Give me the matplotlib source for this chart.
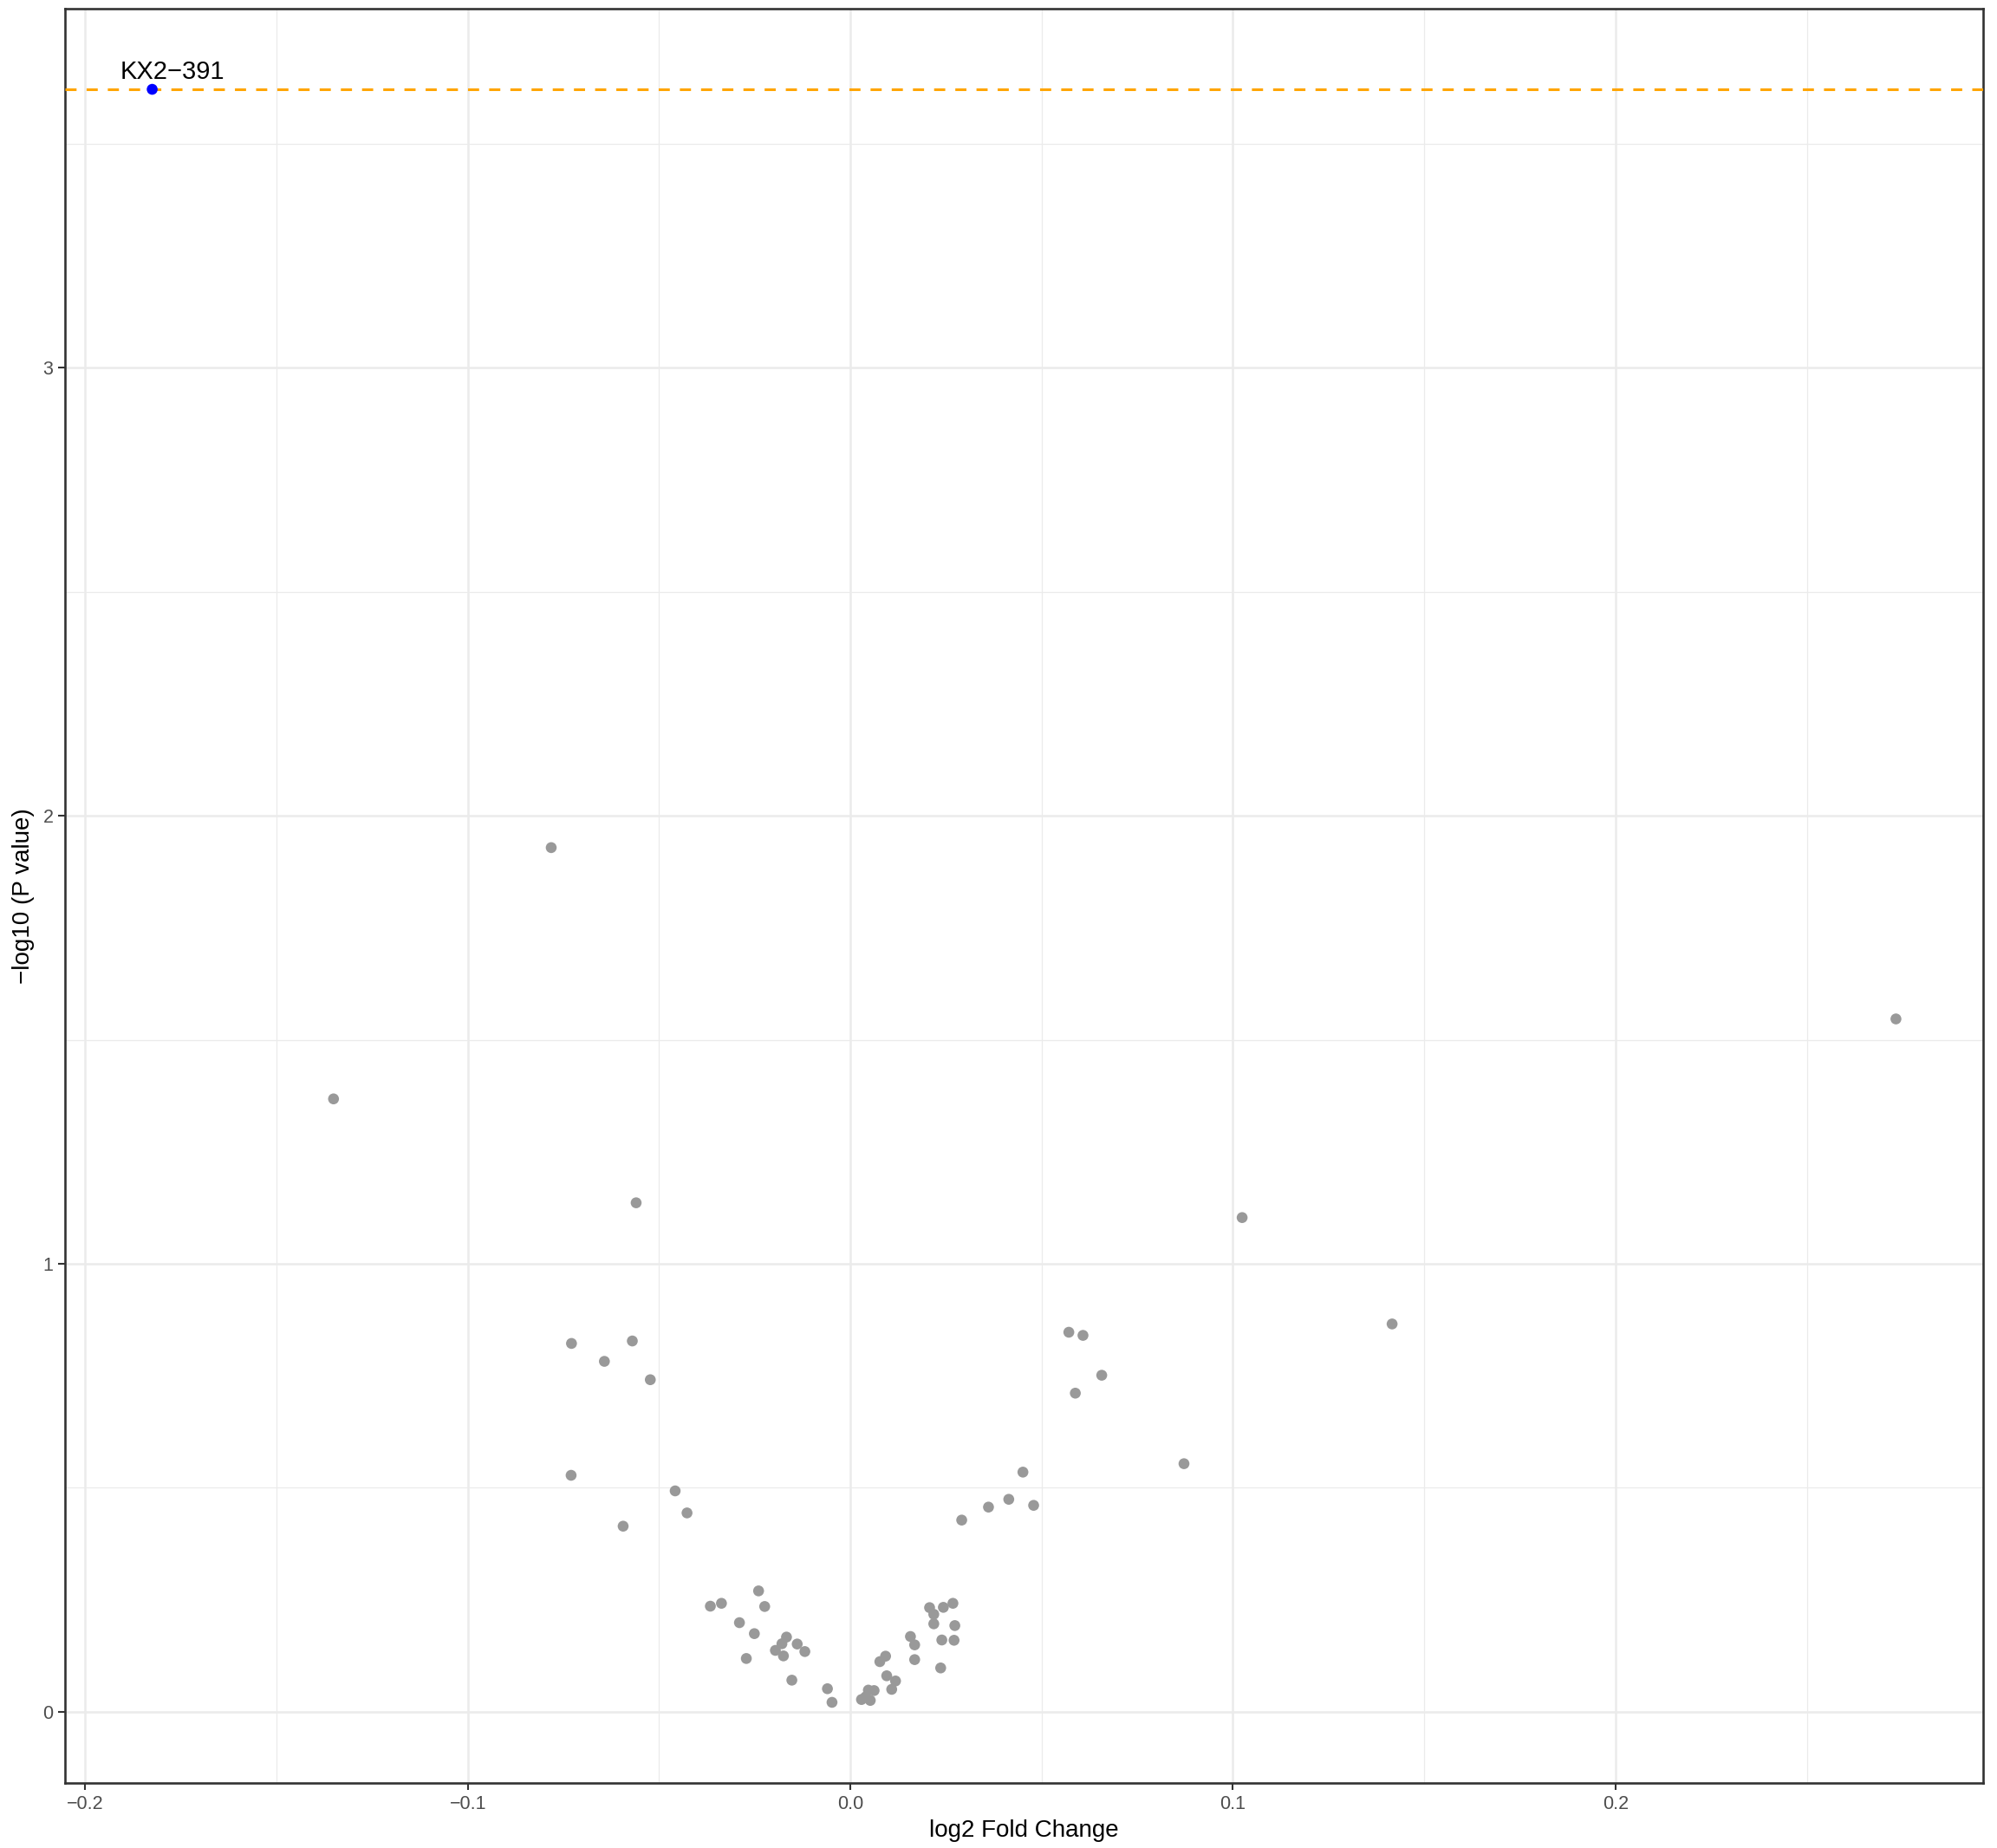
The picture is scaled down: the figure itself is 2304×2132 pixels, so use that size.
import matplotlib
matplotlib.use("Agg")
import matplotlib.pyplot as plt
import numpy as np

# ---- data ----
log2fc = [-0.0782, -0.1351, 0.2733, 0.1416, -0.0560, 0.1024, -0.0729, -0.0570,
          -0.0643, -0.0523, 0.0571, 0.0608, 0.0657, 0.0588, 0.0872, -0.0730,
          0.0451, -0.0458, -0.0427, -0.0594, 0.0291, 0.0361, 0.0414, 0.0479,
          -0.0366, -0.0337, -0.0240, -0.0224, -0.0290, -0.0251, -0.0272, -0.0167,
          -0.0179, -0.0196, -0.0175, -0.0139, -0.0119, -0.0153, -0.0060, -0.0048,
          0.0029, 0.0040, 0.0052, 0.0047, 0.0062, 0.0077, 0.0092, 0.0095,
          0.0118, 0.0108, 0.0157, 0.0168, 0.0168, 0.0207, 0.0218, 0.0218,
          0.0243, 0.0268, 0.0273, 0.0239, 0.0271, 0.0236]
neglog10p = [1.929, 1.368, 1.5465, 0.8655, 1.136, 1.103, 0.822, 0.8275,
             0.782, 0.741, 0.847, 0.840, 0.751, 0.711, 0.5535, 0.5276,
             0.5347, 0.4928, 0.4436, 0.414, 0.4276, 0.4566, 0.474, 0.4605,
             0.2354, 0.2418, 0.2695, 0.2347, 0.1986, 0.1741, 0.1186, 0.1664,
             0.1515, 0.1367, 0.1244, 0.1509, 0.1341, 0.0702, 0.0511, 0.0207,
             0.027, 0.033, 0.025, 0.048, 0.047, 0.1116, 0.1238, 0.0800,
             0.0684, 0.0497, 0.1677, 0.1490, 0.1161, 0.2322, 0.2173, 0.1960,
             0.2328, 0.2418, 0.1921, 0.1599, 0.1593, 0.0975]

hit_name = ["KX2\u2212391"]
hit_x = [-0.1825]
hit_y = [3.622]
threshold = 3.622

x_ticks = [-0.2, -0.1, 0.0, 0.1, 0.2]
x_ticklabels = ["\u22120.2", "\u22120.1", "0.0", "0.1", "0.2"]
y_ticks = [0, 1, 2, 3]
y_ticklabels = ["0", "1", "2", "3"]

# ---- figure ----
plt.rcParams['font.family'] = ['Liberation Sans', 'DejaVu Sans']
fig = plt.figure(figsize=(23.04, 21.32), dpi=100)
ax = fig.add_axes([75/2304, 1-2057/2132, (2288-75)/2304, (2057-10)/2132])

allx = np.array(log2fc + hit_x)
ally = np.array(neglog10p + hit_y)
xr = allx.max() - allx.min()
yr = ally.max() - ally.min()
ax.set_xlim(allx.min() - 0.05*xr, allx.max() + 0.05*xr)
ax.set_ylim(ally.min() - 0.05*yr, ally.max() + 0.05*yr)

# grid
for v in [-0.15, -0.05, 0.05, 0.15, 0.25]:
    ax.axvline(v, color='#EBEBEB', lw=0.9, zorder=0)
for v in [0.5, 1.5, 2.5, 3.5]:
    ax.axhline(v, color='#EBEBEB', lw=0.9, zorder=0)
for v in x_ticks:
    ax.axvline(v, color='#EBEBEB', lw=1.8, zorder=0)
for v in y_ticks:
    ax.axhline(v, color='#EBEBEB', lw=1.8, zorder=0)

ax.scatter(log2fc, neglog10p, s=82, color='#999999', edgecolors='none', zorder=3)
ax.scatter(hit_x, hit_y, s=82, color='#0000FF', edgecolors='none', zorder=4)
ax.axhline(threshold, color='#FFA500', lw=2.2, linestyle=(0, (4.2, 3.8)), zorder=3)

for nm, xx, yy in zip(hit_name, hit_x, hit_y):
    ax.text(xx + 0.0052, yy + 0.024, nm, ha='center', va='baseline',
            fontsize=21, color='black', zorder=5)

ax.set_xticks(x_ticks)
ax.set_xticklabels(x_ticklabels)
ax.set_yticks(y_ticks)
ax.set_yticklabels(y_ticklabels)
ax.tick_params(axis='both', length=5.8, width=1.5, color='#333333',
               labelsize=15.5, labelcolor='#4D4D4D', pad=4)

for sp in ax.spines.values():
    sp.set_color('#333333')
    sp.set_linewidth(1.9)

ax.set_xlabel("log2 Fold Change", fontsize=20, color='black', labelpad=5)
ax.set_ylabel("\u2212log10 (P value)", fontsize=20, color='black', labelpad=7)

fig.savefig("out.png", dpi=100, facecolor='white')
